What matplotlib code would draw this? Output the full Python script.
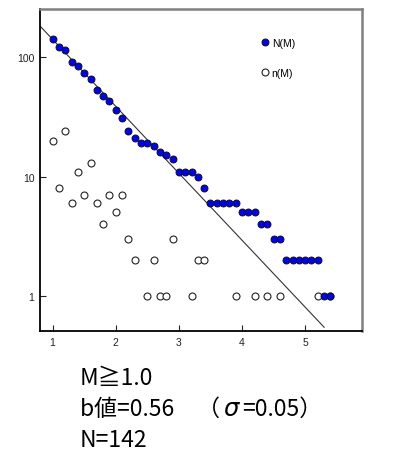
import matplotlib.pyplot as plt
import numpy as np

# magnitude bins
M = [1.0, 1.1, 1.2, 1.3, 1.4, 1.5, 1.6, 1.7, 1.8, 1.9,
     2.0, 2.1, 2.2, 2.3, 2.4, 2.5, 2.6, 2.7, 2.8, 2.9,
     3.0, 3.1, 3.2, 3.3, 3.4, 3.5, 3.6, 3.7, 3.8, 3.9,
     4.0, 4.1, 4.2, 4.3, 4.4, 4.5, 4.6, 4.7, 4.8, 4.9,
     5.0, 5.1, 5.2, 5.3, 5.4]
# cumulative count N(M)
N = [142, 122, 114, 90, 84, 73, 66, 53, 47, 43,
     36, 31, 24, 21, 19, 19, 18, 16, 15, 14,
     11, 11, 11, 10, 8, 6, 6, 6, 6, 6,
     5, 5, 5, 4, 4, 3, 3, 2, 2, 2,
     2, 2, 2, 1, 1]
# count per bin n(M), zero bins are not drawn
n = [20, 8, 24, 6, 11, 7, 13, 6, 4, 7,
     5, 7, 3, 2, 0, 1, 2, 1, 1, 3,
     0, 0, 1, 2, 2, 0, 0, 0, 0, 1,
     0, 0, 1, 0, 1, 0, 1, 0, 0, 0,
     0, 0, 1, 0, 1]

# Gutenberg-Richter fit: log10 N = a - b M
a_val = 2.707
b_val = 0.56
fit_range = [0.8, 5.3]

plt.rcParams['font.family'] = ['Liberation Sans', 'DejaVu Sans']

W, H = 413, 456
fig = plt.figure(figsize=(W / 100, H / 100), dpi=100)
ax = fig.add_axes([40 / W, 1 - 332 / H, 322 / W, 322 / H])

Ma = np.array(M)
na = np.array(n)
mask = na > 0
ax.plot(Ma[mask], na[mask], 'o', ms=5, mfc='white', mec='#222222', mew=0.8,
        ls='none', label='n(M)', zorder=3)
ax.plot(Ma, N, 'o', ms=5, mfc='#0000ff', mec='#111111', mew=0.7,
        ls='none', label='N(M)', zorder=4)

fx = np.array(fit_range)
ax.plot(fx, 10 ** (a_val - b_val * fx), color='#333333', lw=0.8, zorder=2)

ax.set_yscale('log')
ax.set_xlim(0.8, 5.9)
ax.set_ylim(0.51, 252)
ax.set_xticks([1, 2, 3, 4, 5])
ax.set_xticklabels(['1', '2', '3', '4', '5'])
ax.set_yticks([1, 10, 100])
ax.set_yticklabels(['1', '10', '100'])
ax.minorticks_off()
ax.tick_params(direction='in', length=4, width=0.8, labelsize=7.5,
               colors='#222222', pad=4)

for s in ['left', 'bottom']:
    ax.spines[s].set_color('black')
    ax.spines[s].set_linewidth(1.3)
for s in ['top', 'right']:
    ax.spines[s].set_color('#808080')
    ax.spines[s].set_linewidth(1.8)

h, l = ax.get_legend_handles_labels()
ax.legend(h[::-1], l[::-1], loc='center left', bbox_to_anchor=(0.687, 0.848),
          frameon=False, fontsize=7.5, handlelength=0.8, handletextpad=0.2,
          labelspacing=1.9, borderpad=0, borderaxespad=0, numpoints=1)

fs = 16.5
cjk = ['Noto Sans CJK JP', 'DejaVu Sans']
fig.text(80 / W, 1 - 385 / H, 'M≧1.0', fontsize=fs, family=cjk, va='baseline')
t1 = fig.text(80 / W, 1 - 416 / H, 'b値=0.56　（', fontsize=fs, family=cjk,
              va='baseline')
t2 = ax.annotate('σ', xy=(1, 0), xycoords=t1, xytext=(2, 0),
                 textcoords='offset points', fontsize=fs + 1,
                 family='DejaVu Sans', style='italic', va='bottom')
ax.annotate('=0.05）', xy=(1, 0), xycoords=t2, xytext=(3, 0),
            textcoords='offset points', fontsize=fs, family=cjk, va='bottom')
fig.text(80 / W, 1 - 447 / H, 'N=142', fontsize=fs, family=cjk, va='baseline')

fig.savefig('out.png', dpi=100)
